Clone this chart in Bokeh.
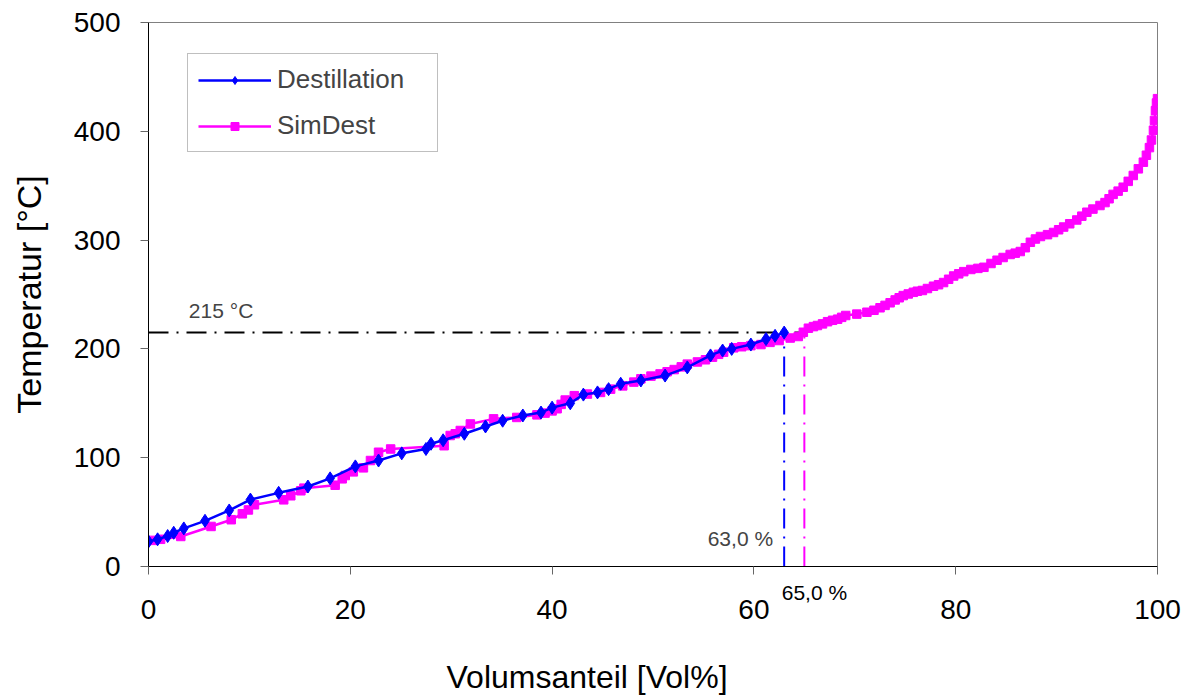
from bokeh.plotting import figure
from bokeh.models import (Range1d, FixedTicker, Legend, LegendItem, Label, ColumnDataSource,
                          LinearAxis, Title)
from bokeh.embed import file_html
from bokeh.resources import INLINE

# ---- data ----
dest_vol = [0, 0.9, 1.9, 2.5, 3.5, 5.6, 8.0, 10.1, 12.9, 15.8, 18.0, 20.5, 22.8, 25.1, 27.5, 28.0,
            29.2, 31.3, 33.4, 35.1, 37.1, 38.9, 40.0, 41.8, 43.1, 44.5, 45.6, 46.8, 48.8, 51.2,
            53.4, 55.7, 56.9, 57.8, 59.7, 61.2, 62.1, 63.0]
dest_temp = [23, 25, 28, 31, 35, 42, 51.5, 61.5, 67.7, 73.5, 81, 92, 97.4, 104, 108, 112.8,
             116, 122, 128.7, 134, 138.8, 141.5, 146, 150, 158, 160, 163, 168, 171, 175.5,
             183, 194, 198.5, 200, 204, 209, 212, 215]

sim_vol = [0.5, 1.2, 3.2, 6.2, 8.2, 9.3, 9.9, 10.5, 13.4, 14.1, 15.1, 15.4, 18.5, 19.2, 19.5,
           20.3, 21.3, 22.0, 22.8, 24.0, 29.3, 29.9, 30.4, 30.9, 31.9, 34.2, 36.5, 38.5, 39.3,
           40.0, 40.5, 40.9, 41.3, 42.2, 43.5, 44.8, 45.8, 47.0, 48.1, 48.8, 49.8, 50.7, 51.4,
           52.1, 52.8, 53.4, 54.4, 55.2, 55.9, 56.5, 57.0, 58.0, 58.8, 59.7, 60.7, 61.6, 62.5,
           63.6, 64.4, 64.9, 65.4, 65.9, 66.3, 66.8, 67.3, 67.8, 68.3, 68.7, 69.1, 70.2, 71.2,
           71.9, 72.5, 73.0, 73.5, 74.0, 74.4, 74.8, 75.3, 75.8, 76.2, 76.7, 77.2, 77.8, 78.3,
           78.8, 79.3, 79.8, 80.3, 80.8, 81.5, 82.2, 82.8, 83.5, 84.1, 84.7, 85.4, 85.9, 86.4,
           86.9, 87.4, 87.9, 88.4, 89.1, 89.7, 90.2, 90.7, 91.3, 92.0, 92.5, 93.0, 93.6, 94.3,
           94.8, 95.2, 95.6, 96.1, 96.6, 97.1, 97.6, 98.1, 98.6, 98.9, 99.2, 99.4, 99.6, 99.7,
           99.8, 99.9, 100.0]
sim_temp = [24, 25, 27.6, 36.8, 43, 48.4, 52, 56.7, 61.3, 65, 69.6, 72, 74.7, 80.6, 83.6,
            87, 90.7, 97.4, 105, 108, 111, 120.4, 122, 125, 131, 135.7, 137, 139.4, 141,
            143, 145, 149, 153, 157, 158.5, 160, 163, 166, 169.5, 172.5, 175, 177, 179,
            181, 183.5, 186, 188, 190, 192.4, 195, 197, 201, 202, 203, 204, 206, 207.7,
            210, 211.4, 215.3, 219, 220.5, 221.5, 223, 225, 226.3, 227.3, 229, 230.7, 232, 233.7,
            235.5, 237.8, 240, 242.4, 245, 247, 249, 250.5, 252, 253, 253.7, 255.5, 257.6, 259,
            261, 264, 267, 269, 271, 273, 274, 275, 278.5, 281.5, 284, 286.8, 288, 289.5,
            293, 298, 301, 303.3, 305, 307, 309.5, 312, 315, 318.5, 322, 325.6, 328.5, 331.8,
            334.5, 338, 342, 345, 348.6, 354, 359.4, 365.5, 371.6, 378, 385, 392, 401, 410,
            419, 426, 430]

ref_temp = 215
dest_cut = 63.0
sim_cut = 65.0
dest_cut_label = "63,0 %"
sim_cut_label = "65,0 %"
ref_temp_label = "215 °C"

x_ticks = [0, 20, 40, 60, 80, 100]
y_ticks = [0, 100, 200, 300, 400, 500]
x_title = "Volumsanteil [Vol%]"
y_title = "Temperatur [°C]"

FONT = "Liberation Sans"
BLUE = "#0000FF"
MAG = "#FF00FF"
TICK = "#666666"

p = figure(width=1184, height=698, output_backend="svg", toolbar_location=None,
           x_range=Range1d(0, 100), y_range=Range1d(0, 500),
           min_border_left=148, min_border_right=27, min_border_top=22, min_border_bottom=132)
p.background_fill_color = "white"
p.border_fill_color = "white"
p.outline_line_color = "#808080"
p.outline_line_width = 1
p.xgrid.visible = False
p.ygrid.visible = False

# ---- y axis ----
ya = p.yaxis[0]
ya.ticker = FixedTicker(ticks=y_ticks)
ya.axis_line_color = "black"
ya.major_tick_line_color = TICK
ya.major_tick_in = 0
ya.major_tick_out = 8
ya.minor_tick_line_color = None
ya.major_label_text_font = FONT
ya.major_label_text_font_size = "28px"
ya.major_label_text_color = "black"
ya.major_label_standoff = 20
ya.axis_label = y_title
ya.axis_label_text_font = FONT
ya.axis_label_text_font_size = "34px"
ya.axis_label_text_font_style = "normal"
ya.axis_label_text_color = "black"
ya.axis_label_standoff = 23

# ---- x axis (inner): axis line, tick marks, and the SimDest cut label under the axis ----
xa = p.xaxis[0]
xa.ticker = FixedTicker(ticks=[sim_cut + 1.0], minor_ticks=x_ticks)
xa.major_label_overrides = {sim_cut + 1.0: sim_cut_label}
xa.axis_line_color = "black"
xa.major_tick_line_color = None
xa.major_tick_in = 0
xa.major_tick_out = 8
xa.minor_tick_line_color = TICK
xa.minor_tick_in = 0
xa.minor_tick_out = 8
xa.major_label_standoff = 6
xa.major_label_text_font = FONT
xa.major_label_text_font_size = "21px"
xa.major_label_text_color = "black"

# ---- x axis (outer): the tick labels ----
xb = LinearAxis(ticker=FixedTicker(ticks=x_ticks))
xb.axis_line_color = None
xb.major_tick_line_color = None
xb.minor_tick_line_color = None
xb.major_tick_in = 0
xb.major_tick_out = 0
xb.major_label_standoff = -7
xb.major_label_text_font = FONT
xb.major_label_text_font_size = "28px"
xb.major_label_text_color = "black"
p.add_layout(xb, "below")

# ---- invisible spacer axis (one blank tick) to push the x title down ----
xs = LinearAxis(ticker=FixedTicker(ticks=[x_ticks[0]]),
                major_label_overrides={x_ticks[0]: ""})
xs.axis_line_color = None
xs.major_tick_line_color = None
xs.minor_tick_line_color = None
xs.major_tick_in = 0
xs.major_tick_out = 34
xs.major_label_standoff = 0
xs.major_label_text_font_size = "1px"
p.add_layout(xs, "below")

p.add_layout(Title(text=x_title, align="left", offset=298, standoff=2,
                   text_font=FONT, text_font_size="32px", text_font_style="normal",
                   text_color="black"), "below")

# ---- reference lines ----
p.line([0, sim_cut], [ref_temp, ref_temp], line_color="black", line_width=2, line_dash="20 8 2 8")
p.line([dest_cut, dest_cut], [0, ref_temp], line_color=BLUE, line_width=2, line_dash="20 8 2 8")
p.line([sim_cut, sim_cut], [0, ref_temp], line_color=MAG, line_width=2, line_dash="20 8 2 8")

# ---- series ----
src_d = ColumnDataSource(dict(x=dest_vol, y=dest_temp))
src_s = ColumnDataSource(dict(x=sim_vol, y=sim_temp))

ls = p.line("x", "y", source=src_s, line_color=MAG, line_width=2.5)
ms = p.scatter("x", "y", source=src_s, marker="square", size=8.5, fill_color=MAG, line_color=MAG)
ld = p.line("x", "y", source=src_d, line_color=BLUE, line_width=2.5)
md = p.scatter("x", "y", source=src_d, marker="diamond", size=13, fill_color=BLUE, line_color=BLUE)

legend = Legend(items=[LegendItem(label="Destillation", renderers=[ld, md]),
                       LegendItem(label="SimDest", renderers=[ls, ms])],
                location=(39, 414), margin=0, padding=10, spacing=15,
                glyph_width=73, glyph_height=20, label_standoff=6, label_width=150,
                label_text_font=FONT, label_text_font_size="26px",
                border_line_color="#808080", border_line_width=1,
                background_fill_color="white", background_fill_alpha=1)
p.add_layout(legend)

p.add_layout(Label(x=4.0, y=235, text=ref_temp_label, text_font=FONT, text_font_size="21px",
                   text_baseline="middle", text_align="left"))
p.add_layout(Label(x=dest_cut - 1.1, y=26, text=dest_cut_label, text_font=FONT,
                   text_font_size="21px", text_baseline="middle", text_align="right"))

open("out.html", "w").write(file_html(p, INLINE))
